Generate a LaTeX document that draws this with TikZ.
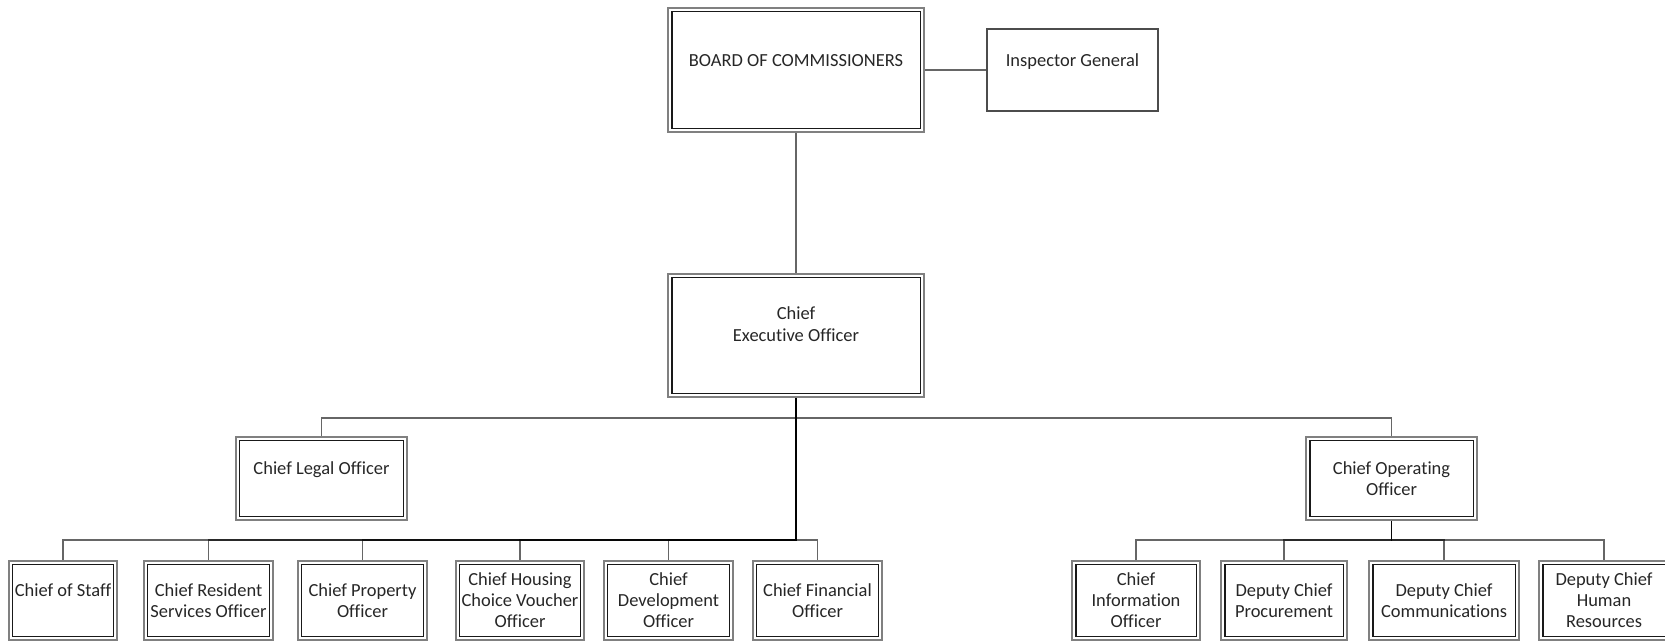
\documentclass[tikz,border=0pt]{standalone}
\usepackage{fontspec}
\setmainfont{Carlito}[Ligatures=NoCommon]
\usetikzlibrary{positioning}

\tikzset{
	post/.style={draw=gray, line width=1.6pt, align=center, inner sep=0pt,
		font=\fontsize{10.5}{12}\selectfont, text=black!85},
	single/.style={post, draw=black!70, line width=1.1pt},
	lift/.style={text height=7pt, text depth=11pt},
	link/.style={draw=black, opacity=0.6, line width=1.1pt}
}

\begin{document}
\begin{tikzpicture}[x=0.02cm, y=-0.02cm]
	\useasboundingbox (0, 0) rectangle (1665, 641);
	% top
	\node[post, lift, minimum width=5.12cm, minimum height=2.48cm] (board) at (796, 70) {BOARD OF COMMISSIONERS};
	\node[single, lift, minimum width=3.42cm, minimum height=1.64cm] (ig) at (1072.5, 70) {Inspector General};
	\node[post, text depth=13pt, minimum width=5.12cm, minimum height=2.46cm] (ceo) at (796, 335.5) {Chief\\Executive Officer};
	\node[post, lift, minimum width=3.42cm, minimum height=1.66cm] (legal) at (321.5, 478.5) {Chief Legal Officer};
	\node[post, minimum width=3.42cm, minimum height=1.66cm] (coo) at (1391.5, 478.5) {Chief Operating\\Officer};
	% bottom row
	\begin{scope}[every node/.append style={post, minimum height=1.58cm}]
		\node[lift, minimum width=2.16cm] (staff) at (63, 600.5) {Chief of Staff};
		\node[minimum width=2.58cm] (resident) at (208.5, 600.5) {Chief Resident\\Services Officer};
		\node[minimum width=2.58cm] (property) at (362.5, 600.5) {Chief Property\\Officer};
		\node[minimum width=2.56cm] (housing) at (520, 600.5) {Chief Housing\\Choice Voucher\\Officer};
		\node[minimum width=2.58cm] (development) at (668.5, 600.5) {Chief\\Development\\Officer};
		\node[minimum width=2.58cm] (financial) at (817.5, 600.5) {Chief Financial\\Officer};
		\node[minimum width=2.56cm] (information) at (1136, 600.5) {Chief\\Information\\Officer};
		\node[minimum width=2.52cm] (procurement) at (1284, 600.5) {Deputy Chief\\Procurement};
		\node[minimum width=3.0cm] (communications) at (1444, 600.5) {Deputy Chief\\Communications};
		\node[minimum width=2.6cm] (hr) at (1604, 600.5) {Deputy Chief\\Human\\Resources};
	\end{scope}
	% inner frames
	\foreach \n in {board, ceo, legal, coo, staff, resident, property, housing, development, financial, information, procurement, communications, hr}
		\draw[black!90, line width=1pt] ([shift={(5, 5)}]\n.north west) rectangle ([shift={(-5, -5)}]\n.south east);
	% connectors
	\coordinate (upper) at (0, 418);
	\coordinate (lower) at (0, 540);
	\draw[link] (board.east) -- (ig.west);
	\draw[link] (board.south) -- (ceo.north);
	\foreach \n in {legal, coo}
		\draw[link] (ceo.south) -- (ceo.south |- upper) -| (\n.north);
	\foreach \n in {staff, resident, property, housing, development, financial}
		\draw[link] (ceo.south) -- (ceo.south |- lower) -| (\n.north);
	\foreach \n in {information, procurement, communications, hr}
		\draw[link] (coo.south) -- (coo.south |- lower) -| (\n.north);
\end{tikzpicture}
\end{document}
